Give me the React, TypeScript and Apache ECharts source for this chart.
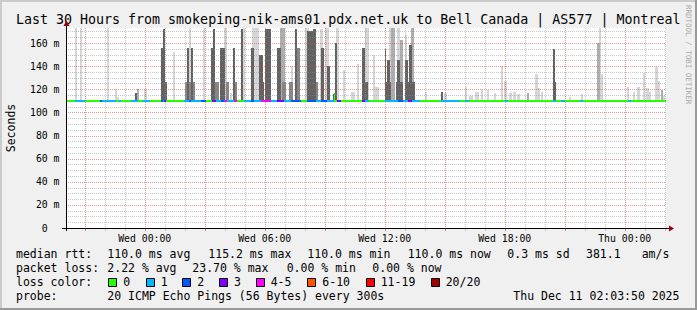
import React, { useEffect, useRef } from 'react';
import * as echarts from 'echarts';

const W = 697;
const H = 310;
const FONT = "'DejaVu Sans Mono', 'Liberation Mono', monospace";

// x axis: hours relative to Wed 00:00 ; y axis: milliseconds
const X_MIN = -3.936; // Tue 20:03:50
const X_MAX = 26.064; // Thu 02:03:50
const Y_MIN = 0;
const Y_MAX = 173;
const MEDIAN_RTT = 110;

const TITLE = 'Last 30 Hours from smokeping-nik-ams01.pdx.net.uk to Bell Canada | AS577 | Montreal';

const xTickHours = [0, 6, 12, 18, 24];
const xTickLabels = ['Wed 00:00', 'Wed 06:00', 'Wed 12:00', 'Wed 18:00', 'Thu 00:00'];
const yTickValues = [0, 20, 40, 60, 80, 100, 120, 140, 160];
const yTickLabels = ['0\u00a0\u00a0', '20 m', '40 m', '60 m', '80 m', '100 m', '120 m', '140 m', '160 m'];

const gridHours = [-3, -2, -1, 0, 1, 2, 3, 4, 5, 6, 7, 8, 9, 10, 11, 12, 13, 14, 15, 16, 17, 18, 19, 20, 21, 22, 23, 24, 25, 26];
const gridMs = [5, 10, 15, 20, 25, 30, 35, 40, 45, 50, 55, 60, 65, 70, 75, 80, 85, 90, 95, 100, 105, 110, 115, 120, 125, 130, 135, 140, 145, 150, 155, 160, 165, 170];

const lossLabels = ['0', '1', '2', '3', '4-5', '6-10', '11-19', '20/20'];
const lossColors = ['#26ff00', '#00b8ff', '#0059ff', '#7e00ff', '#ff00ff', '#ff5500', '#ff0000', '#a10000'];

const smokeShades = ['#d6d6d6', '#aeaeae', '#868686', '#626262'];

// smoke: [start hour, end hour, top ms, shade]
const smokeBars: number[][] = [
  [-3.47, -3.37, 173, 0], [-3.22, -3.12, 173, 0], [-1.87, -1.77, 173, 0],
  [-1.47, -1.37, 120, 0], [-1.37, -1.27, 113, 0], [-0.47, -0.37, 117, 3],
  [-0.37, -0.27, 120, 1], [-0.02, 0.09, 120, 0], [0.79, 0.89, 156, 3],
  [0.89, 1.02, 172, 3], [0.99, 1.12, 126, 3], [1.39, 1.49, 152, 0],
  [1.99, 2.49, 126, 2], [2.12, 2.22, 156, 3], [2.22, 2.29, 173, 0],
  [2.29, 2.39, 156, 3], [2.89, 2.99, 173, 0], [3.29, 3.42, 156, 3],
  [3.39, 3.52, 172, 3], [3.52, 3.69, 126, 2], [3.75, 3.99, 156, 3],
  [3.95, 4.09, 173, 0], [4.05, 4.22, 126, 2], [4.25, 4.35, 117, 0],
  [4.39, 4.52, 156, 3], [4.45, 4.59, 126, 2], [4.79, 4.92, 172, 3],
  [4.89, 5.02, 173, 0], [5.29, 5.45, 156, 3], [5.35, 5.72, 173, 0],
  [5.72, 5.89, 150, 3], [5.79, 5.95, 126, 3], [6.02, 6.29, 172, 3],
  [6.62, 6.82, 156, 3], [6.75, 7.02, 173, 1], [6.85, 7.05, 126, 2],
  [7.22, 7.39, 126, 2], [7.29, 7.42, 140, 0], [7.49, 7.62, 172, 3],
  [7.59, 7.75, 156, 2], [8.02, 8.19, 173, 0], [8.09, 8.42, 170, 3],
  [8.42, 8.55, 172, 3], [8.52, 8.65, 126, 2], [8.75, 8.89, 172, 0],
  [8.82, 8.95, 156, 3], [9.02, 9.19, 173, 0], [9.09, 9.25, 140, 3],
  [9.42, 9.52, 116, 3], [9.49, 9.62, 160, 3], [9.55, 9.69, 173, 0],
  [9.89, 10.02, 137, 0], [10.29, 10.52, 118, 0], [10.59, 10.72, 142, 0],
  [10.85, 10.99, 156, 3], [10.99, 11.15, 126, 3], [11.02, 11.19, 173, 0],
  [11.39, 11.52, 150, 0], [11.42, 11.69, 122, 0], [11.99, 12.05, 155, 3],
  [12.02, 12.29, 126, 3], [12.12, 12.25, 145, 3], [12.22, 12.49, 173, 0],
  [12.29, 12.52, 173, 1], [12.54, 12.89, 126, 3], [12.62, 12.75, 173, 0],
  [12.62, 12.75, 145, 3], [12.75, 12.89, 163, 1], [12.99, 13.12, 167, 0],
  [13.02, 13.15, 145, 3], [13.04, 13.49, 126, 3], [13.19, 13.35, 158, 3],
  [13.32, 13.45, 173, 1], [13.99, 14.12, 118, 0], [14.79, 14.89, 118, 3],
  [14.95, 15.09, 117, 0], [15.99, 16.09, 122, 0], [16.19, 16.39, 114, 0],
  [16.49, 16.69, 118, 0], [16.79, 16.89, 120, 0], [17.09, 17.19, 119, 0],
  [17.44, 17.54, 117, 0], [17.79, 17.92, 140, 0], [17.95, 18.09, 127, 0],
  [18.22, 18.35, 117, 0], [18.42, 18.55, 118, 0], [18.59, 18.75, 116, 0],
  [19.09, 19.22, 117, 1], [19.52, 19.65, 133, 0], [19.64, 19.75, 121, 0],
  [19.79, 19.89, 118, 0], [20.39, 20.52, 155, 3], [20.45, 20.55, 126, 3],
  [21.19, 21.32, 113, 0], [21.79, 21.89, 116, 0], [22.62, 22.75, 160, 1],
  [22.72, 22.82, 173, 0], [22.75, 22.89, 133, 0], [24.09, 24.22, 122, 0],
  [24.39, 24.52, 118, 0], [24.59, 24.75, 122, 0], [24.89, 25.02, 134, 0],
  [25.05, 25.19, 121, 0], [25.19, 25.29, 118, 0], [25.52, 25.65, 139, 0],
  [25.65, 25.75, 127, 0], [25.79, 25.89, 119, 1], [25.89, 26.02, 114, 0],
];

// packet loss runs on the median line: [start hour, end hour, loss level]; elsewhere level 0
const lossRuns: number[][] = [
  [-3.5, -3.0, 1], [-2.25, -2.12, 2], [-2.12, -1.42, 1], [-1.27, -1.17, 1],
  [-0.67, -0.32, 1], [-0.07, 0.24, 1], [0.79, 0.89, 2], [0.89, 0.95, 1],
  [0.95, 1.04, 3], [1.94, 2.19, 1], [2.19, 2.29, 2], [2.29, 2.79, 1],
  [2.79, 3.04, 2], [3.37, 3.54, 3], [3.54, 3.79, 1], [3.79, 3.95, 2],
  [3.95, 4.09, 4], [4.09, 4.45, 1], [4.45, 4.59, 4], [4.94, 5.29, 1],
  [5.29, 5.44, 2], [5.44, 5.79, 1], [5.82, 6.29, 4], [6.29, 6.62, 1],
  [6.62, 6.95, 3], [6.95, 7.29, 1], [7.29, 7.79, 2], [8.12, 8.54, 2],
  [8.54, 8.79, 1], [8.79, 9.12, 2], [9.12, 9.45, 1], [9.62, 9.79, 3],
  [10.87, 10.99, 3], [10.99, 11.19, 1], [12.0, 12.67, 1], [12.67, 12.92, 2],
  [12.92, 13.17, 1], [13.17, 13.34, 3], [13.34, 13.75, 1], [14.79, 15.75, 1],
  [16.0, 16.22, 1], [18.0, 18.17, 1], [20.39, 20.55, 1], [20.79, 21.0, 1],
  [21.75, 21.89, 1], [24.15, 24.29, 1],
];

// median excursions: [start hour, end hour, median ms]
const medianSpikes: number[][] = [[9.45, 9.52, 116]];

const statsRtt = [
  ['median rtt:', 16], ['110.0 ms avg', 107.3], ['115.2 ms max', 208.3], ['110.0 ms min', 307.3],
  ['110.0 ms now', 407.7], ['0.3 ms sd', 507.3], ['381.1', 586], ['am/s', 641.7],
];
const statsLoss = [
  ['packet loss:', 16], ['2.22 % avg', 107.3], ['23.70 % max', 192.3], ['0.00 % min', 286.7], ['0.00 % now', 372.3],
];
const probeLine = [
  ['probe:', 16], ['20 ICMP Echo Pings (56 Bytes) every 300s', 107.3], ['Thu Dec 11 02:03:50 2025', 513.3],
];
const lossBoxX = [108.3, 145.7, 182.3, 219, 255.7, 307.3, 365.7, 430.7];

const GRID = 'rgba(143,143,143,0.5)';
const MGRID = 'rgba(222,80,80,0.6)';

function fillRuns(runs: number[][]) {
  const out: number[][] = [];
  let cur = X_MIN;
  const sorted = [...runs].sort((a, b) => a[0] - b[0]);
  for (const [s, e, l] of sorted) {
    if (s > cur) out.push([cur, s, 0, MEDIAN_RTT]);
    out.push([Math.max(s, cur), e, l, MEDIAN_RTT]);
    cur = Math.max(cur, e);
  }
  if (cur < X_MAX) out.push([cur, X_MAX, 0, MEDIAN_RTT]);
  return out;
}

function txt(text: string, x: number, y: number, size: number, extra: any = {}) {
  return {
    type: 'text',
    z: 20,
    style: {
      text, x, y, fill: '#000', fontSize: size, fontFamily: FONT,
      align: 'left', verticalAlign: 'middle', textAlign: 'left', textVerticalAlign: 'middle',
      ...extra,
    },
  };
}

function buildOption() {
  const smokeData = smokeBars.map((b, i) => [...b, i]).sort((a, b) => a[3] - b[3] || a[4] - b[4]).map((b) => b.slice(0, 4));
  const medianData = [
    ...fillRuns(lossRuns),
    ...medianSpikes.map((s) => [s[0], s[1], 0, s[2]]),
  ];
  const gridData = [
    ...gridHours.map((h) => [h % 3 === 0 ? 1 : 0, h]),
    ...gridMs.map((v) => [v % 20 === 0 ? 3 : 2, v]),
  ];

  const graphics: any[] = [];
  // frame shading
  graphics.push({ type: 'rect', z: 20, shape: { x: 0, y: 0, width: W, height: 2 }, style: { fill: '#cbcbcb' } });
  graphics.push({ type: 'rect', z: 20, shape: { x: 0, y: 0, width: 2, height: H }, style: { fill: '#cbcbcb' } });
  graphics.push({ type: 'rect', z: 21, shape: { x: 0, y: H - 2, width: W, height: 2 }, style: { fill: '#999999' } });
  graphics.push({ type: 'rect', z: 21, shape: { x: W - 2, y: 0, width: 2, height: H }, style: { fill: '#999999' } });
  // axes + arrows
  graphics.push({ type: 'line', z: 20, shape: { x1: 62, y1: 228.5, x2: 670, y2: 228.5 }, style: { stroke: '#000', lineWidth: 1 } });
  graphics.push({ type: 'line', z: 20, shape: { x1: 66.5, y1: 231, x2: 66.5, y2: 24 }, style: { stroke: '#000', lineWidth: 1 } });
  graphics.push({ type: 'polygon', z: 21, shape: { points: [[669, 225.5], [674, 228.5], [669, 231.5]] }, style: { fill: '#990000' } });
  graphics.push({ type: 'polygon', z: 21, shape: { points: [[63.5, 26], [66.5, 20.5], [69.5, 26]] }, style: { fill: '#990000' } });
  // watermark
  graphics.push({
    type: 'text', z: 20, x: 688, y: 5, rotation: -Math.PI / 2,
    style: { text: 'RRDTOOL / TOBI OETIKER', fill: '#aaaaaa', fontSize: 7.5, fontFamily: FONT, align: 'left', verticalAlign: 'middle', textAlign: 'left', textVerticalAlign: 'middle' },
  });
  // legend
  statsRtt.forEach(([t, x]) => graphics.push(txt(t as string, x as number, 254.3, 11.5)));
  statsLoss.forEach(([t, x]) => graphics.push(txt(t as string, x as number, 268.3, 11.5)));
  graphics.push(txt('loss color:', 16, 282.3, 11.5));
  lossLabels.forEach((l, i) => {
    const bx = lossBoxX[i];
    graphics.push({ type: 'rect', z: 20, shape: { x: Math.round(bx) + 0.5, y: 278.5, width: 8, height: 8 }, style: { fill: lossColors[i], stroke: '#000', lineWidth: 1 } });
    graphics.push(txt(l, bx + 15, 282.3, 11.5));
  });
  probeLine.forEach(([t, x]) => graphics.push(txt(t as string, x as number, 296, 11.5)));

  return {
    animation: false,
    backgroundColor: '#f0f0f0',
    title: {
      text: TITLE, left: 16, top: 12.5, padding: 0,
      textStyle: { fontFamily: FONT, fontSize: 13.3, fontWeight: 'normal', color: '#000' },
    },
    grid: { left: 66, top: 28, width: 600, height: 200, show: true, backgroundColor: '#ffffff', borderWidth: 0, containLabel: false, outerBoundsMode: 'none' },
    xAxis: {
      type: 'value', min: X_MIN, max: X_MAX,
      axisLine: { show: false }, axisTick: { show: false }, splitLine: { show: false },
      axisLabel: {
        customValues: xTickHours,
        formatter: (v: number) => { const i = xTickHours.findIndex((h) => Math.abs(h - v) < 1e-6); return i >= 0 ? xTickLabels[i] : ''; },
        fontFamily: FONT, fontSize: 9.8, color: '#000', margin: 5, lineHeight: 10,
      },
    },
    yAxis: {
      type: 'value', min: Y_MIN, max: Y_MAX, interval: 20,
      name: 'Seconds', nameLocation: 'middle', nameGap: 49, nameRotate: 90,
      nameTextStyle: { fontFamily: FONT, fontSize: 11.5, color: '#000' },
      axisLine: { show: false }, axisTick: { show: false }, splitLine: { show: false },
      axisLabel: {
        customValues: yTickValues,
        formatter: (v: number) => { const i = yTickValues.findIndex((t) => Math.abs(t - v) < 1e-6); return i >= 0 ? yTickLabels[i] : ''; },
        fontFamily: FONT, fontSize: 9.8, color: '#000', margin: 6.5,
      },
    },
    graphic: { elements: graphics },
    series: [
      {
        type: 'custom', name: 'smoke', z: 2, silent: true,
        encode: { x: [0, 1], y: 2 },
        data: smokeData,
        renderItem: (params: any, api: any) => {
          const a = api.coord([api.value(0), api.value(2)]);
          const b = api.coord([api.value(1), MEDIAN_RTT]);
          const x0 = Math.round(a[0]);
          const x1 = Math.max(Math.round(b[0]), x0 + 1);
          const y0 = Math.round(a[1]);
          const y1 = Math.round(b[1]);
          return { type: 'rect', shape: { x: x0, y: y0, width: x1 - x0, height: y1 - y0 }, style: { fill: smokeShades[api.value(3)] } };
        },
      },
      {
        type: 'custom', name: 'grid', z: 3, silent: true,
        data: gridData,
        renderItem: (params: any, api: any) => {
          const kind = api.value(0);
          const v = api.value(1);
          const major = kind === 1 || kind === 3;
          const color = major ? MGRID : GRID;
          if (kind < 2) {
            const p = api.coord([v, Y_MIN]);
            const q = api.coord([v, Y_MAX]);
            const x = Math.round(p[0]) + 0.5;
            return {
              type: 'group', children: [
                { type: 'line', shape: { x1: x, y1: Math.round(q[1]), x2: x, y2: Math.round(p[1]) }, style: { stroke: color, lineWidth: 1, lineDash: [1, 1] } },
                { type: 'line', shape: { x1: x, y1: Math.round(p[1]) + 1, x2: x, y2: Math.round(p[1]) + 3 }, style: { stroke: color, lineWidth: 1 } },
              ],
            };
          }
          const p = api.coord([X_MIN, v]);
          const q = api.coord([X_MAX, v]);
          const y = Math.round(p[1]) + 0.5;
          return { type: 'line', shape: { x1: Math.round(p[0]), y1: y, x2: Math.round(q[0]), y2: y }, style: { stroke: color, lineWidth: 1, lineDash: [1, 1] } };
        },
      },
      {
        type: 'custom', name: 'median rtt', z: 4, silent: true,
        encode: { x: [0, 1], y: 3 },
        data: medianData,
        renderItem: (params: any, api: any) => {
          const v = api.value(3);
          const a = api.coord([api.value(0), v]);
          const b = api.coord([api.value(1), v]);
          const x0 = Math.round(a[0]);
          const x1 = Math.max(Math.round(b[0]), x0 + 1);
          const y = Math.round(a[1]) - 1;
          const color = lossColors[api.value(2)];
          const children: any[] = [{ type: 'rect', shape: { x: x0, y, width: x1 - x0, height: 2 }, style: { fill: color } }];
          if (v !== MEDIAN_RTT) {
            const base = Math.round(api.coord([api.value(0), MEDIAN_RTT])[1]) - 1;
            children.push({ type: 'rect', shape: { x: x0, y, width: 1, height: base - y + 2 }, style: { fill: color } });
            children.push({ type: 'rect', shape: { x: x1 - 1, y, width: 1, height: base - y + 2 }, style: { fill: color } });
          }
          return { type: 'group', children };
        },
      },
    ],
  };
}

export default function App() {
  const ref = useRef<HTMLDivElement>(null);
  useEffect(() => {
    if (!ref.current) return;
    const chart = echarts.init(ref.current, null, { renderer: 'svg', width: W, height: H });
    chart.setOption(buildOption() as any);
    return () => chart.dispose();
  }, []);
  return <div ref={ref} style={{ position: 'absolute', left: 0, top: 0, width: W, height: H }} />;
}
